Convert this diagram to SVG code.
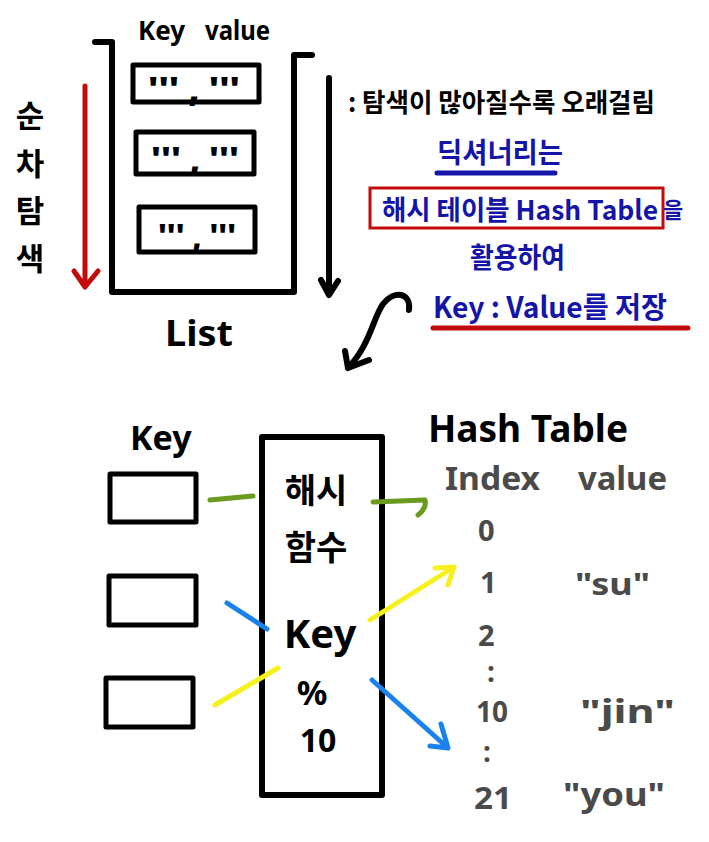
<svg xmlns="http://www.w3.org/2000/svg" width="709" height="842" viewBox="0 0 709 842">
<style>
.ink{fill:none;stroke:#000;stroke-width:6;stroke-linecap:round;stroke-linejoin:round}
.box{fill:none;stroke:#000;stroke-width:5;stroke-linejoin:round}
.t{font-family:"Noto Sans","Noto Sans CJK KR",sans-serif;font-weight:700;fill:#000}
.k{font-family:"Noto Sans CJK KR","Noto Sans",sans-serif;font-weight:700}
.q{font-family:"Noto Sans",sans-serif;font-weight:900;fill:#000}
.blue{fill:#1414a8}
.gray{fill:#4a4a4a}
.red{stroke:#c40a0a}
.g{stroke:#6a9a1e}
.y{stroke:#f5f01e}
.b{stroke:#1a82ec}
.ln{fill:none;stroke-width:5;stroke-linecap:round;stroke-linejoin:round}
</style>
<rect width="709" height="842" fill="#fff"/>

<g id="list">
  <path class="ink" d="M95,42 H112 V292 H294 V55 H312"/>
  <text class="t" x="138" y="40" font-size="26">Key</text>
  <text class="t" x="205" y="40" font-size="26" textLength="65" lengthAdjust="spacingAndGlyphs">value</text>
  <text class="t" x="165" y="346" font-size="36" textLength="68" lengthAdjust="spacingAndGlyphs">List</text>
</g>
<g id="item1">
  <rect class="box" x="133" y="65" width="126" height="37"/>
  <text class="q" x="148" y="101" font-size="34" textLength="92" lengthAdjust="spacingAndGlyphs">''' , '''</text>
</g>
<g id="item2">
  <rect class="box" x="136" y="132" width="118" height="42"/>
  <text class="q" x="151" y="171" font-size="34" textLength="88" lengthAdjust="spacingAndGlyphs">''' , '''</text>
</g>
<g id="item3">
  <rect class="box" x="139" y="207" width="116" height="45"/>
  <text class="q" x="158" y="248" font-size="34" textLength="78" lengthAdjust="spacingAndGlyphs">''' , '''</text>
</g>

<g id="sequential-label">
  <text class="t k" x="30" y="127" font-size="31" text-anchor="middle">순</text>
  <text class="t k" x="30" y="175" font-size="31" text-anchor="middle">차</text>
  <text class="t k" x="30" y="222" font-size="31" text-anchor="middle">탐</text>
  <text class="t k" x="30" y="270" font-size="31" text-anchor="middle">색</text>
</g>

<g id="notes">
  <text class="t k" x="348" y="112" font-size="26" textLength="307" lengthAdjust="spacingAndGlyphs">: 탐색이 많아질수록 오래걸림</text>
  <text class="t k blue" x="437" y="163" font-size="28" textLength="126" lengthAdjust="spacingAndGlyphs">딕셔너리는</text>
  <rect x="370" y="188" width="293" height="40" fill="none" stroke="#c40a0a" stroke-width="3"/>
  <text class="t k blue" x="382" y="220" font-size="27" textLength="276" lengthAdjust="spacingAndGlyphs">해시 테이블 Hash Table</text>
  <text class="t k blue" x="663" y="218" font-size="22">을</text>
  <text class="t k blue" x="470" y="268" font-size="28" textLength="95" lengthAdjust="spacingAndGlyphs">활용하여</text>
  <text class="t k blue" x="433" y="318" font-size="29" textLength="234" lengthAdjust="spacingAndGlyphs">Key : Value를 저장</text>
</g>

<g id="hash-function">
  <rect x="262" y="437" width="120" height="358" fill="none" stroke="#000" stroke-width="6" stroke-linejoin="round"/>
  <text class="t k" x="316" y="503" font-size="34" text-anchor="middle">해시</text>
  <text class="t k" x="316" y="560" font-size="34" text-anchor="middle">함수</text>
  <text class="t" x="320" y="648" font-size="40" text-anchor="middle">Key</text>
  <text class="t" x="312" y="705" font-size="34" text-anchor="middle">%</text>
  <text class="t" x="318" y="752" font-size="32" text-anchor="middle">10</text>
</g>

<g id="keys">
  <text class="t" x="130" y="450" font-size="34">Key</text>
  <rect class="box" x="110" y="474" width="86" height="48"/>
  <rect class="box" x="109" y="576" width="87" height="49"/>
  <rect class="box" x="106" y="678" width="87" height="49"/>
</g>

<g id="hash-table">
  <text class="t" x="428" y="442" font-size="38" textLength="200" lengthAdjust="spacingAndGlyphs">Hash Table</text>
  <text class="t gray" x="445" y="490" font-size="32" textLength="95" lengthAdjust="spacingAndGlyphs">Index</text>
  <text class="t gray" x="578" y="490" font-size="32" textLength="89" lengthAdjust="spacingAndGlyphs">value</text>
  <text class="t gray" x="478" y="541" font-size="29">0</text>
  <text class="t gray" x="480" y="593" font-size="29">1</text>
  <text class="t gray" x="575" y="595" font-size="30" textLength="75" lengthAdjust="spacingAndGlyphs">"su"</text>
  <text class="t gray" x="478" y="646" font-size="29">2</text>
  <text class="t gray" x="487" y="682" font-size="28">:</text>
  <text class="t gray" x="476" y="722" font-size="28" textLength="32" lengthAdjust="spacingAndGlyphs">10</text>
  <text class="t gray" x="580" y="723" font-size="32" textLength="95" lengthAdjust="spacingAndGlyphs">"jin"</text>
  <text class="t gray" x="483" y="762" font-size="28">:</text>
  <text class="t gray" x="474" y="809" font-size="30" textLength="38" lengthAdjust="spacingAndGlyphs">21</text>
  <text class="t gray" x="563" y="806" font-size="32" textLength="102" lengthAdjust="spacingAndGlyphs">"you"</text>
</g>

<g id="connectors">
  <path class="ln red" d="M85,86 V286 M74,271 L85,287 L98,271"/>
  <path class="ink" d="M329,78 V294 M321,280 L329,295 L338,281"/>
  <path class="ink" d="M409,310 C411,292 394,290 383,304 C373,318 370,345 348,368 M345,351 L348,368 L369,360"/>
  <path class="ln red" d="M433,328 H688" stroke-width="3"/>
  <path class="ln blue" d="M437,173 H555" stroke="#1414a8" stroke-width="3"/>
  <path class="ln g" d="M210,500 L253,496"/>
  <path class="ln g" d="M373,502 L425,500 Q427,508 418,515"/>
  <path class="ln b" d="M227,603 L267,629"/>
  <path class="ln b" d="M372,680 L448,748 M430,746 L448,748 L441,724"/>
  <path class="ln y" d="M215,705 L278,668"/>
  <path class="ln y" d="M370,620 L454,567 M435,568 L454,567 L448,585"/>
</g>
</svg>
